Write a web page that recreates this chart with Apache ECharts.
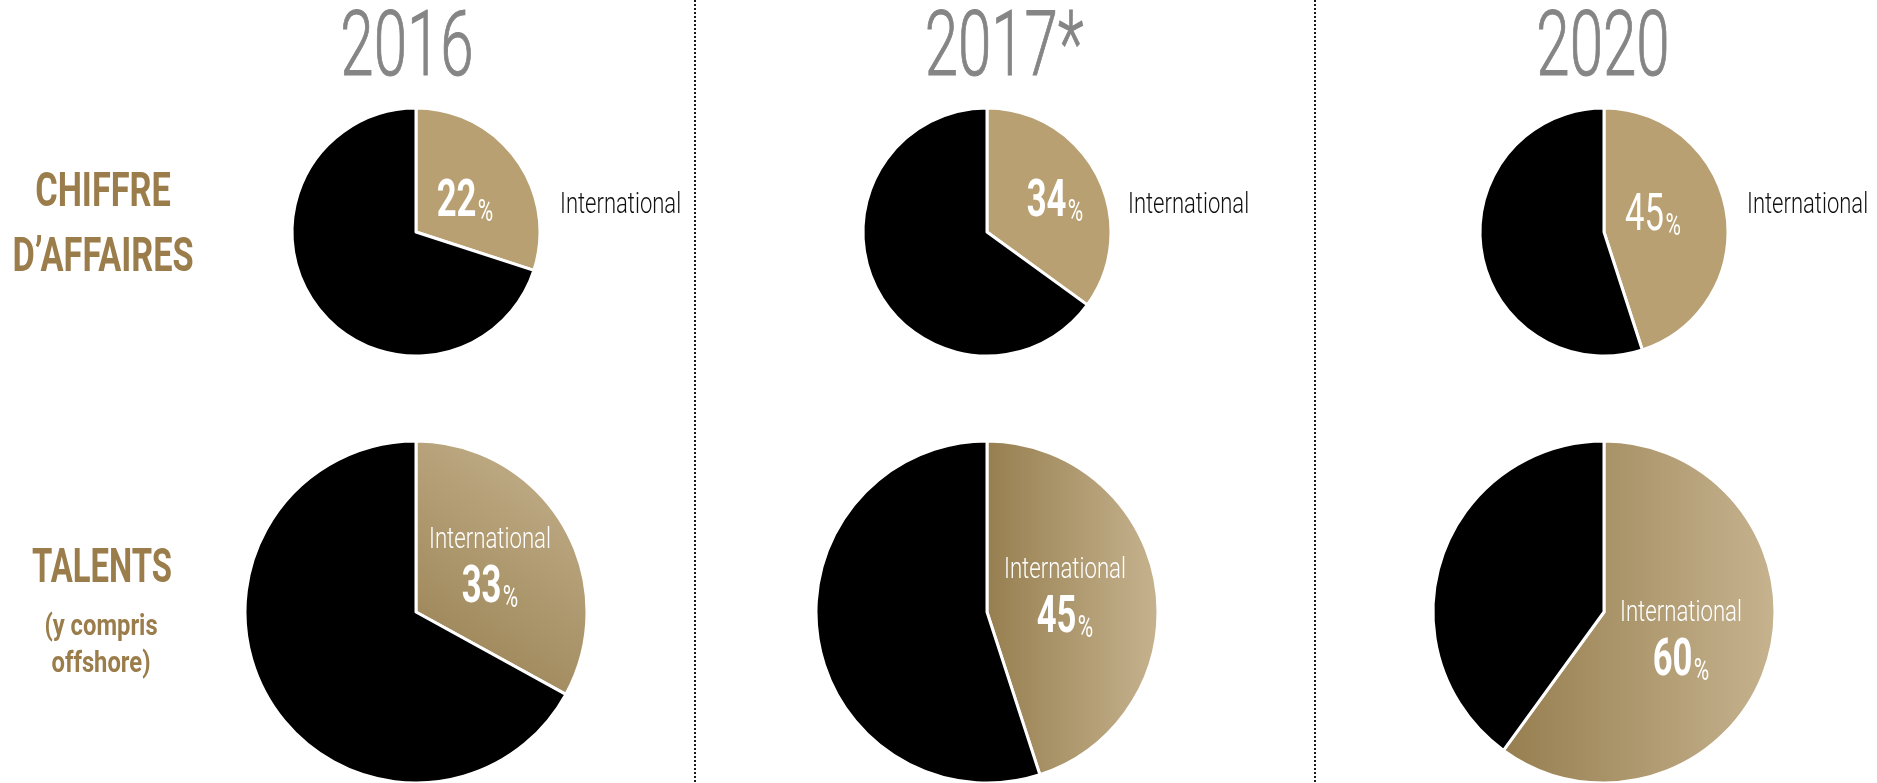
<!DOCTYPE html>
<html><head><meta charset="utf-8">
<script src="https://cdn.jsdelivr.net/npm/echarts@6/dist/echarts.min.js"></script>
<style>html,body{margin:0;padding:0;background:#fff}#c{width:1877px;height:783px}</style>
</head><body><div id="c"></div>
<script>
// ---------- DATA ----------
const years = ['2016', '2017*', '2020'];
const rowTitles = ['CHIFFRE\nD\u2019AFFAIRES', 'TALENTS'];
const talentsNote = '(y compris\noffshore)';
const segmentName = 'International';
const otherName = 'Autre';
// printed percentages
const caLabels = [22, 34, 45];
const talentsLabels = [33, 45, 60];
// slice shares as drawn in the source (the 2016 revenue slice is drawn at ~30%)
const caShares = [30, 35, 45];
const talentsShares = [33, 45, 60];

// ---------- LAYOUT / STYLE ----------
const W = 1877, H = 783;
const colX = [416, 987, 1604];
const rowY = [232, 612];
const radii = [124, 171];
const FONT = 'Roboto, "Liberation Sans", sans-serif';
const GOLD = '#b8a072';
const TITLE_GOLD = '#9b7d4b';
const GREY = '#858585';
const dividerX = [695, 1315];

const yearPos = [[407, 52], [1004, 52], [1603, 52]];
const outsideLabelPos = [[560, 206], [1128, 206], [1747, 206]];
const caPctPos = [[465, 203], [1055, 203], [1653, 217]];
const caPctBold = [true, true, false];
const tIntlPos = [[490, 540], [1065, 570], [1681, 613]];
const tPctPos = [[490, 589], [1065, 619], [1681, 662]];
const talentGradDir = [[0, 1, 1, 0], [0, 0, 1, 0], [0, 0, 1, 0]];

function grad(d) {
  return { type: 'linear', x: d[0], y: d[1], x2: d[2], y2: d[3],
    colorStops: [{ offset: 0, color: '#967e4f' }, { offset: 1, color: '#c6b38f' }] };
}

const series = [];
[caShares, talentsShares].forEach((shares, r) => {
  shares.forEach((v, c) => {
    series.push({
      type: 'pie', center: [colX[c], rowY[r]], radius: radii[r],
      startAngle: 90, clockwise: true, silent: true, animation: false,
      label: { show: false }, labelLine: { show: false },
      itemStyle: { borderColor: '#fff', borderWidth: 3 },
      data: [
        { name: segmentName, value: v, itemStyle: { color: r === 0 ? GOLD : grad(talentGradDir[c]) } },
        { name: otherName, value: 100 - v, itemStyle: { color: '#000' } }
      ]
    });
  });
});

function text(x, y, str, style, sx) {
  return { type: 'text', x: x, y: y, scaleX: sx, z: 100, silent: true,
    style: Object.assign({ text: str, fontFamily: FONT, align: 'center', verticalAlign: 'middle' }, style) };
}
function pctText(x, y, val, bold) {
  return text(x, y, '{n|' + val + '}{p|%}', {
    fill: '#fff',
    rich: {
      n: { fontSize: 51, lineHeight: 51, fontWeight: bold ? 'bold' : 'normal', fill: '#fff', fontFamily: FONT, verticalAlign: 'bottom' },
      p: { fontSize: 31, lineHeight: 38, fontWeight: 'normal', fill: '#fff', fontFamily: FONT, verticalAlign: 'bottom', padding: [0, 0, 0, 2] }
    }
  }, 0.68);
}

const graphic = [];
dividerX.forEach(x => graphic.push({
  type: 'line', silent: true, shape: { x1: x, y1: 0, x2: x, y2: H },
  style: { stroke: '#1a1a1a', lineWidth: 2, lineDash: [2, 2] }
}));
years.forEach((yr, i) => graphic.push(text(yearPos[i][0], yearPos[i][1], yr,
  { fontSize: 91, fontWeight: 300, fill: GREY, stroke: GREY, lineWidth: 1 }, 0.66)));
graphic.push(text(103, 226, rowTitles[0], { fontSize: 49, fontWeight: 'bold', fill: TITLE_GOLD, lineHeight: 65 }, 0.7));
graphic.push(text(102, 570, rowTitles[1], { fontSize: 49, fontWeight: 'bold', fill: TITLE_GOLD }, 0.67));
graphic.push(text(101, 646, talentsNote, { fontSize: 29, fontWeight: 'bold', fill: TITLE_GOLD, lineHeight: 37 }, 0.82));

caLabels.forEach((v, i) => {
  graphic.push(pctText(caPctPos[i][0], caPctPos[i][1], v, caPctBold[i]));
  graphic.push(text(outsideLabelPos[i][0], outsideLabelPos[i][1], segmentName,
    { fontSize: 29, fontWeight: 300, fill: '#111', align: 'left' }, 0.76));
});
talentsLabels.forEach((v, i) => {
  graphic.push(text(tIntlPos[i][0], tIntlPos[i][1], segmentName,
    { fontSize: 30, fontWeight: 300, fill: '#fff' }, 0.74));
  graphic.push(pctText(tPctPos[i][0], tPctPos[i][1], v, true));
});

const chart = echarts.init(document.getElementById('c'), null, { renderer: 'canvas', width: W, height: H });
chart.setOption({ backgroundColor: '#fff', animation: false, series: series, graphic: graphic });
</script></body></html>
